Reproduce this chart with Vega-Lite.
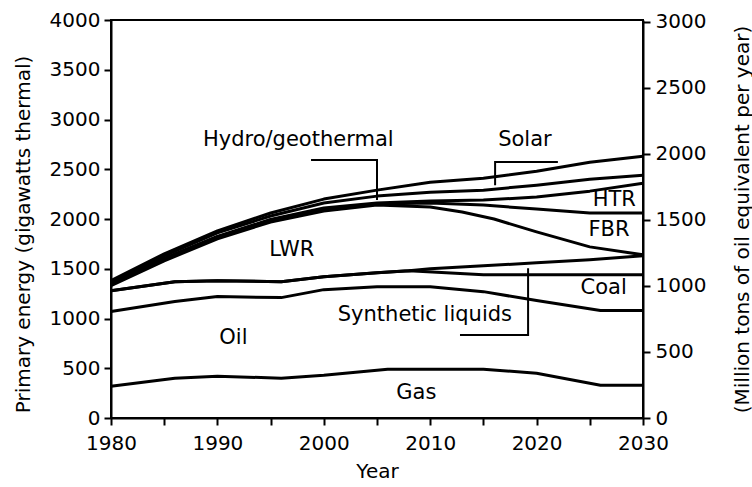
{
  "$schema": "https://vega.github.io/schema/vega-lite/v6.json",
  "width": 532,
  "height": 398,
  "autosize": "none",
  "padding": {"left": 111, "top": 20, "right": 109, "bottom": 69},
  "background": "white",
  "config": {
    "view": {"stroke": "black", "strokeWidth": 2},
    "axis": {
      "domainColor": "black", "domainWidth": 2, "tickColor": "black", "tickWidth": 2, "tickSize": 7,
      "labelFont": "DejaVu Sans", "labelFontSize": 20, "labelColor": "black",
      "titleFont": "DejaVu Sans", "titleFontSize": 20, "titleFontWeight": "normal", "titleColor": "black",
      "grid": false
    }
  },
  "datasets": {
    "lines": [
      {"series": "Gas", "year": 1980, "value": 320}, {"series": "Gas", "year": 1986, "value": 400}, {"series": "Gas", "year": 1990, "value": 420}, {"series": "Gas", "year": 1996, "value": 400}, {"series": "Gas", "year": 2000, "value": 430}, {"series": "Gas", "year": 2006, "value": 490}, {"series": "Gas", "year": 2015, "value": 490}, {"series": "Gas", "year": 2020, "value": 450}, {"series": "Gas", "year": 2026, "value": 330}, {"series": "Gas", "year": 2030, "value": 330},
      {"series": "Oil", "year": 1980, "value": 1070}, {"series": "Oil", "year": 1986, "value": 1170}, {"series": "Oil", "year": 1990, "value": 1220}, {"series": "Oil", "year": 1996, "value": 1210}, {"series": "Oil", "year": 2000, "value": 1290}, {"series": "Oil", "year": 2005, "value": 1320}, {"series": "Oil", "year": 2010, "value": 1320}, {"series": "Oil", "year": 2015, "value": 1270}, {"series": "Oil", "year": 2020, "value": 1180}, {"series": "Oil", "year": 2026, "value": 1080}, {"series": "Oil", "year": 2030, "value": 1080},
      {"series": "Coal", "year": 1980, "value": 1280}, {"series": "Coal", "year": 1986, "value": 1370}, {"series": "Coal", "year": 1990, "value": 1380}, {"series": "Coal", "year": 1996, "value": 1370}, {"series": "Coal", "year": 2000, "value": 1420}, {"series": "Coal", "year": 2005, "value": 1460}, {"series": "Coal", "year": 2008, "value": 1480}, {"series": "Coal", "year": 2015, "value": 1440}, {"series": "Coal", "year": 2020, "value": 1440}, {"series": "Coal", "year": 2030, "value": 1440},
      {"series": "Synthetic liquids", "year": 1980, "value": 1280}, {"series": "Synthetic liquids", "year": 1986, "value": 1370}, {"series": "Synthetic liquids", "year": 1990, "value": 1380}, {"series": "Synthetic liquids", "year": 1996, "value": 1370}, {"series": "Synthetic liquids", "year": 2000, "value": 1420}, {"series": "Synthetic liquids", "year": 2005, "value": 1460}, {"series": "Synthetic liquids", "year": 2008, "value": 1480}, {"series": "Synthetic liquids", "year": 2010, "value": 1500}, {"series": "Synthetic liquids", "year": 2015, "value": 1530}, {"series": "Synthetic liquids", "year": 2020, "value": 1560}, {"series": "Synthetic liquids", "year": 2025, "value": 1590}, {"series": "Synthetic liquids", "year": 2030, "value": 1630},
      {"series": "LWR", "year": 1980, "value": 1330}, {"series": "LWR", "year": 1985, "value": 1580}, {"series": "LWR", "year": 1990, "value": 1800}, {"series": "LWR", "year": 1995, "value": 1970}, {"series": "LWR", "year": 2000, "value": 2080}, {"series": "LWR", "year": 2005, "value": 2140}, {"series": "LWR", "year": 2010, "value": 2120}, {"series": "LWR", "year": 2013, "value": 2070}, {"series": "LWR", "year": 2016, "value": 2000}, {"series": "LWR", "year": 2020, "value": 1870}, {"series": "LWR", "year": 2025, "value": 1720}, {"series": "LWR", "year": 2030, "value": 1640},
      {"series": "FBR", "year": 1980, "value": 1340}, {"series": "FBR", "year": 1985, "value": 1600}, {"series": "FBR", "year": 1990, "value": 1820}, {"series": "FBR", "year": 1995, "value": 1990}, {"series": "FBR", "year": 2000, "value": 2100}, {"series": "FBR", "year": 2005, "value": 2150}, {"series": "FBR", "year": 2010, "value": 2160}, {"series": "FBR", "year": 2015, "value": 2140}, {"series": "FBR", "year": 2020, "value": 2100}, {"series": "FBR", "year": 2025, "value": 2060}, {"series": "FBR", "year": 2030, "value": 2060},
      {"series": "HTR", "year": 1980, "value": 1345}, {"series": "HTR", "year": 1985, "value": 1605}, {"series": "HTR", "year": 1990, "value": 1825}, {"series": "HTR", "year": 1995, "value": 1995}, {"series": "HTR", "year": 2000, "value": 2110}, {"series": "HTR", "year": 2005, "value": 2160}, {"series": "HTR", "year": 2010, "value": 2180}, {"series": "HTR", "year": 2015, "value": 2190}, {"series": "HTR", "year": 2020, "value": 2220}, {"series": "HTR", "year": 2025, "value": 2280}, {"series": "HTR", "year": 2030, "value": 2360},
      {"series": "Hydro/geothermal", "year": 1980, "value": 1360}, {"series": "Hydro/geothermal", "year": 1985, "value": 1630}, {"series": "Hydro/geothermal", "year": 1990, "value": 1860}, {"series": "Hydro/geothermal", "year": 1995, "value": 2030}, {"series": "Hydro/geothermal", "year": 2000, "value": 2160}, {"series": "Hydro/geothermal", "year": 2005, "value": 2230}, {"series": "Hydro/geothermal", "year": 2010, "value": 2270}, {"series": "Hydro/geothermal", "year": 2015, "value": 2290}, {"series": "Hydro/geothermal", "year": 2020, "value": 2340}, {"series": "Hydro/geothermal", "year": 2025, "value": 2400}, {"series": "Hydro/geothermal", "year": 2030, "value": 2440},
      {"series": "Solar", "year": 1980, "value": 1380}, {"series": "Solar", "year": 1985, "value": 1650}, {"series": "Solar", "year": 1990, "value": 1880}, {"series": "Solar", "year": 1995, "value": 2060}, {"series": "Solar", "year": 2000, "value": 2200}, {"series": "Solar", "year": 2005, "value": 2290}, {"series": "Solar", "year": 2010, "value": 2370}, {"series": "Solar", "year": 2015, "value": 2410}, {"series": "Solar", "year": 2020, "value": 2480}, {"series": "Solar", "year": 2025, "value": 2570}, {"series": "Solar", "year": 2030, "value": 2630}
    ],
    "leaders": [
      {"leader": "Hydro/geothermal", "ord": 1, "year": 1998.8, "value": 2593}, {"leader": "Hydro/geothermal", "ord": 2, "year": 2005.0, "value": 2593}, {"leader": "Hydro/geothermal", "ord": 3, "year": 2005.0, "value": 2190},
      {"leader": "Solar", "ord": 1, "year": 2022.0, "value": 2573}, {"leader": "Solar", "ord": 2, "year": 2016.1, "value": 2573}, {"leader": "Solar", "ord": 3, "year": 2016.1, "value": 2340},
      {"leader": "Synthetic liquids", "ord": 1, "year": 2012.8, "value": 834}, {"leader": "Synthetic liquids", "ord": 2, "year": 2019.2, "value": 834}, {"leader": "Synthetic liquids", "ord": 3, "year": 2019.2, "value": 1505}
    ],
    "labels": [
      {"label": "Hydro/geothermal", "year": 1997.6, "value": 2794},
      {"label": "Solar", "year": 2018.9, "value": 2794},
      {"label": "HTR", "year": 2027.3, "value": 2190},
      {"label": "FBR", "year": 2026.8, "value": 1890},
      {"label": "LWR", "year": 1997.0, "value": 1690},
      {"label": "Coal", "year": 2026.3, "value": 1305},
      {"label": "Synthetic liquids", "year": 2009.5, "value": 1035},
      {"label": "Oil", "year": 1991.5, "value": 800},
      {"label": "Gas", "year": 2008.7, "value": 250}
    ],
    "rightaxis": [{"mtoe": 0}, {"mtoe": 3014}]
  },
  "layer": [
    {
      "encoding": {
        "x": {"field": "year", "type": "quantitative", "scale": {"domain": [1980, 2030], "nice": false, "zero": false},
          "axis": {"values": [1980, 1985, 1990, 1995, 2000, 2005, 2010, 2015, 2020, 2025, 2030], "format": "d",
            "labelExpr": "datum.value % 10 == 0 ? datum.label : ''", "labelPadding": 8, "title": "Year", "titlePadding": 8, "labelFlush": false, "labelOverlap": false}},
        "y": {"field": "value", "type": "quantitative", "scale": {"domain": [0, 4000], "nice": false},
          "axis": {"values": [0, 500, 1000, 1500, 2000, 2500, 3000, 3500, 4000], "format": "d", "labelPadding": 4, "title": "Primary energy (gigawatts thermal)", "titleX": -78, "titleY": 214, "labelFlush": false, "labelOverlap": false}}
      },
      "layer": [
        {"data": {"name": "lines"}, "mark": {"type": "line", "color": "black", "strokeWidth": 3, "strokeJoin": "round"},
          "encoding": {"detail": {"field": "series"}}},
        {"data": {"name": "leaders"}, "mark": {"type": "line", "color": "black", "strokeWidth": 2},
          "encoding": {"detail": {"field": "leader"}, "order": {"field": "ord"}}},
        {"data": {"name": "labels"}, "mark": {"type": "text", "font": "DejaVu Sans", "fontSize": 21, "color": "black", "align": "center", "baseline": "middle"},
          "encoding": {"text": {"field": "label"}}}
      ]
    },
    {
      "data": {"name": "rightaxis"},
      "mark": {"type": "point", "opacity": 0},
      "encoding": {
        "y": {"field": "mtoe", "type": "quantitative", "scale": {"domain": [0, 3014], "nice": false},
          "axis": {"orient": "right", "values": [0, 500, 1000, 1500, 2000, 2500, 3000], "format": "d", "labelPadding": 5, "title": "(Million tons of oil equivalent per year)", "titleAngle": 270, "titleBaseline": "top", "titleX": 89, "labelFlush": false, "labelOverlap": false}}
      }
    }
  ],
  "resolve": {"scale": {"y": "independent"}}
}
